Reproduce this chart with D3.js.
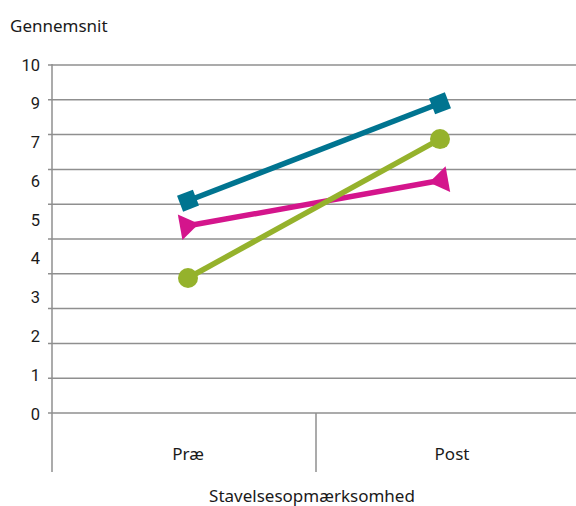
<!DOCTYPE html>
<html>
<head>
<meta charset="utf-8">
<script src="https://cdn.jsdelivr.net/npm/d3@7/dist/d3.min.js"></script>
<style>
  html, body { margin: 0; padding: 0; background: #fff; }
  svg { display: block; }
  text { font-family: "Noto Sans", "DejaVu Sans", sans-serif; fill: #1a1a1a; }
  .ylab { font-family: Roboto, "Liberation Sans", sans-serif; }
</style>
</head>
<body>
<svg id="chart" width="576" height="506"></svg>
<script>
// Categories and series
const categories = ["Præ", "Post"];
const seriesTeal = [6.10, 8.90];
const seriesMagenta = [5.38, 6.68];
const seriesGreen = [3.88, 7.87];
// Y tick labels as printed on the axis
const yTickLabels = ["10", "9", "7", "6", "5", "4", "3", "2", "1", "0"];
const gridValues = [0, 1, 2, 3, 4, 5, 6, 7, 8, 9, 10];
const yTitle = "Gennemsnit";
const xTitle = "Stavelsesopmærksomhed";

(function () {
  const svg = d3.select("#chart");
  const plotLeft = 52, plotRight = 580, plotTop = 65, plotBottom = 413;

  const y = d3.scaleLinear().domain([0, 10]).range([plotBottom, plotTop]);
  const xBand = d3.scaleBand().domain(categories).range([plotLeft, plotRight]);
  const xPt = d3.scalePoint().domain(categories).range([188, 440]);
  const yLab = d3.scalePoint().domain(yTickLabels).range([plotTop, plotBottom + 1]);

  const gridColor = "#8f8f8f";

  // Horizontal gridlines with short outer ticks
  svg.append("g").selectAll("line").data(gridValues).join("line")
    .attr("x1", plotLeft - 4).attr("x2", 576)
    .attr("y1", d => y(d)).attr("y2", d => y(d))
    .attr("stroke", gridColor).attr("stroke-width", 1.5);

  // Vertical axis line
  svg.append("line")
    .attr("x1", plotLeft).attr("x2", plotLeft)
    .attr("y1", plotTop - 1).attr("y2", 472)
    .attr("stroke", gridColor).attr("stroke-width", 1.5);

  // Category separators below the baseline
  svg.append("g").selectAll("line").data(categories.slice(1)).join("line")
    .attr("x1", d => xBand(d)).attr("x2", d => xBand(d))
    .attr("y1", plotBottom).attr("y2", 472)
    .attr("stroke", gridColor).attr("stroke-width", 1.5);

  // Y tick labels
  svg.append("g").selectAll("text").data(yTickLabels).join("text")
    .attr("class", "ylab")
    .attr("x", 40).attr("y", d => yLab(d))
    .attr("text-anchor", "end").attr("dominant-baseline", "central")
    .attr("font-size", 16.5)
    .text(d => d);

  // Category labels
  svg.append("g").selectAll("text").data(categories).join("text")
    .attr("x", d => xBand(d) + xBand.bandwidth() / 2 + 4)
    .attr("y", 453)
    .attr("text-anchor", "middle").attr("dominant-baseline", "central")
    .attr("font-size", 17)
    .text(d => d);

  // Axis titles
  svg.append("text").attr("x", 10).attr("y", 25)
    .attr("dominant-baseline", "central").attr("font-size", 17).text(yTitle);
  svg.append("text").attr("x", 312).attr("y", 495)
    .attr("text-anchor", "middle").attr("dominant-baseline", "central")
    .attr("font-size", 17).text(xTitle);

  // Series lines and markers
  const series = [
    { values: seriesTeal, color: "#007490", marker: "square" },
    { values: seriesMagenta, color: "#d4158c", marker: "triangle" },
    { values: seriesGreen, color: "#95b22c", marker: "circle" }
  ];

  const line = d3.line().x((d, i) => xPt(categories[i])).y(d => y(d));

  series.forEach(s => {
    const g = svg.append("g");
    g.append("path").datum(s.values)
      .attr("d", line).attr("fill", "none")
      .attr("stroke", s.color).attr("stroke-width", 5.5);

    const pts = s.values.map((v, i) => [xPt(categories[i]), y(v)]);
    const ang = Math.atan2(pts[1][1] - pts[0][1], pts[1][0] - pts[0][0]) * 180 / Math.PI;

    pts.forEach((p, i) => {
      if (s.marker === "circle") {
        g.append("circle").attr("cx", p[0]).attr("cy", p[1]).attr("r", 10).attr("fill", s.color);
      } else if (s.marker === "square") {
        g.append("rect").attr("x", -8.5).attr("y", -8.5).attr("width", 17).attr("height", 17)
          .attr("fill", s.color)
          .attr("transform", `translate(${p[0]},${p[1]}) rotate(${ang})`);
      } else {
        // triangle pointing toward the other end of the line
        const rot = i === 0 ? ang : ang + 180;
        g.append("path").attr("d", "M11,0 L-8,-13 L-8,13 Z")
          .attr("fill", s.color)
          .attr("transform", `translate(${p[0]},${p[1]}) rotate(${rot})`);
      }
    });
  });
})();
</script>
</body>
</html>
